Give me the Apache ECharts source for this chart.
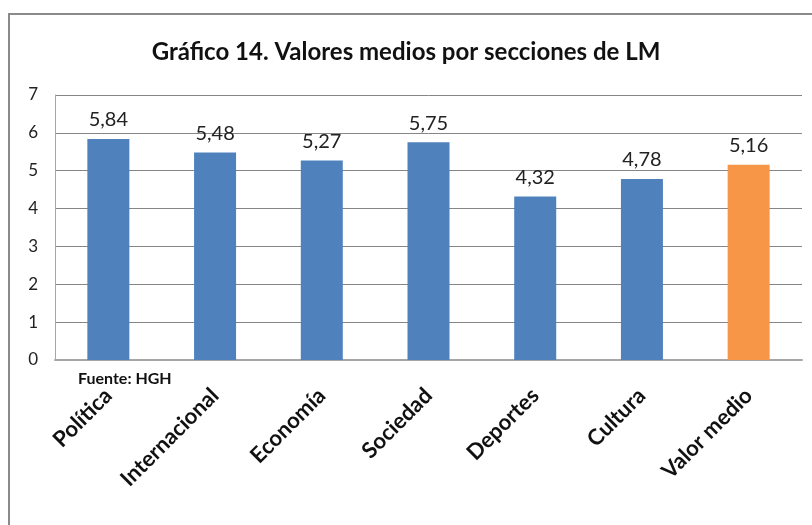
<!DOCTYPE html>
<html>
<head>
<meta charset="utf-8">
<script src="https://cdn.jsdelivr.net/npm/echarts@6/dist/echarts.min.js"></script>
<style>
  html, body { margin: 0; padding: 0; background: #fff; }
  #chart { width: 812px; height: 525px; }
</style>
</head>
<body>
<div id="chart"></div>
<script>
// datos del gráfico
const categories = ["Política", "Internacional", "Economía", "Sociedad", "Deportes", "Cultura", "Valor medio"]
const values = [5.84, 5.48, 5.27, 5.75, 4.32, 4.78, 5.16]
const yTicks = [0, 1, 2, 3, 4, 5, 6, 7]

const FONT = "Lato, 'Liberation Sans', sans-serif"
const BLUE = "#4f81bd"
const ORANGE = "#f79646"

const chart = echarts.init(document.getElementById("chart"))

chart.setOption({
  animation: false,
  title: {
    text: "Gráfico 14. Valores medios por secciones de LM",
    left: "center",
    top: 35,
    textStyle: { fontFamily: FONT, fontSize: 24, fontWeight: "bold", color: "#111" }
  },
  grid: { left: 55, right: 10, top: 95, bottom: 165 },
  xAxis: {
    type: "category",
    data: categories,
    axisLine: { lineStyle: { color: "#a6a6a6", width: 2 } },
    axisTick: { show: false },
    axisLabel: {
      rotate: 45,
      margin: 32,
      fontFamily: FONT,
      fontSize: 22,
      fontWeight: "bold",
      color: "#111"
    }
  },
  yAxis: {
    type: "value",
    min: yTicks[0],
    max: yTicks[yTicks.length - 1],
    interval: 1,
    axisLine: { show: true, lineStyle: { color: "#a6a6a6", width: 1 } },
    axisTick: { show: false },
    splitLine: { lineStyle: { color: "#868686", width: 1 } },
    axisLabel: { margin: 17, fontFamily: FONT, fontSize: 17, color: "#222" }
  },
  series: [{
    type: "bar",
    barWidth: 42,
    data: values.map((v, i) => ({
      value: v,
      itemStyle: { color: i === values.length - 1 ? ORANGE : BLUE }
    })),
    label: {
      show: true,
      position: "top",
      distance: 9,
      fontFamily: FONT,
      fontSize: 20,
      color: "#222",
      formatter: p => p.value.toFixed(2).replace(".", ",")
    }
  }],
  graphic: [
    {
      type: "rect",
      shape: { x: 9, y: 14, width: 820, height: 530 },
      style: { fill: "none", stroke: "#8a8a8a", lineWidth: 2 },
      silent: true
    },
    {
      type: "text",
      left: 78,
      top: 371,
      style: { text: "Fuente: HGH", font: "bold 16px " + FONT, fill: "#111" }
    }
  ]
})
</script>
</body>
</html>
